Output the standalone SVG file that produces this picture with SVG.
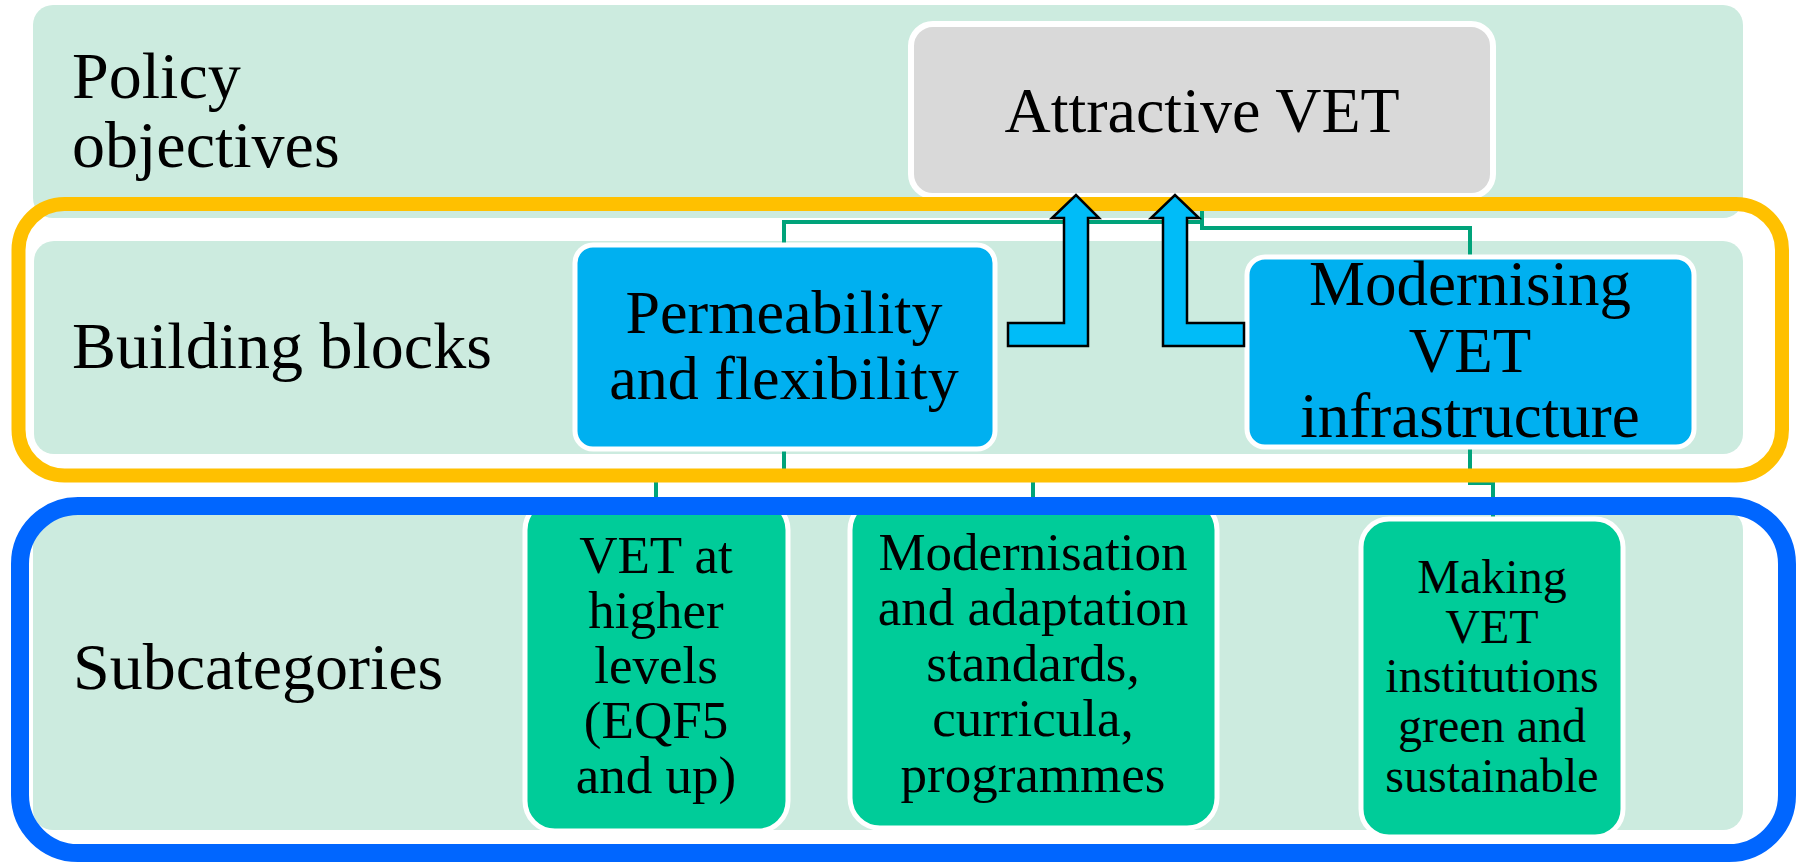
<svg xmlns="http://www.w3.org/2000/svg" width="1798" height="862" viewBox="0 0 1798 862">
<style>
.band{fill:#CCEBDF}
.t{font-family:"Liberation Serif","Times New Roman",serif;fill:#000}
.lbl{font-size:66px}
.c{text-anchor:middle}
.bn{fill:#00B0F0;stroke:#fff;stroke-width:5}
.gn{fill:#00CC99;stroke:#fff;stroke-width:5}
.con{fill:none;stroke:#00A37A;stroke-width:4}
.arr{fill:#00BCF8;stroke:#000;stroke-width:2.5;stroke-linejoin:miter}
</style>
<rect width="1798" height="862" fill="#fff"/>
<g id="bands">
<rect class="band" x="33" y="5" width="1710" height="213" rx="20"/>
<rect class="band" x="34" y="241" width="1709" height="213" rx="20"/>
<rect class="band" x="33" y="510" width="1710" height="320" rx="20"/>
</g>
<g id="labels">
<text class="t lbl" x="72" y="98">Policy</text>
<text class="t lbl" x="72" y="167">objectives</text>
<text class="t lbl" x="72" y="368">Building blocks</text>
<text class="t lbl" x="73" y="689">Subcategories</text>
</g>
<g id="connectors">
<path class="con" d="M1202,196 V222 H784 V245"/>
<path class="con" d="M1202,196 V228 H1470 V258"/>
<path class="con" d="M784,449 V476 H656 V515"/>
<path class="con" d="M784,476 H1033 V515"/>
<path class="con" d="M1470,447 V483 H1493 V519"/>
</g>
<g id="node-attractive">
<rect x="911" y="24" width="582" height="172" rx="22" fill="#D9D9D9" stroke="#fff" stroke-width="6"/>
<text class="t c" x="1202" y="132" font-size="64">Attractive VET</text>
</g>
<g id="node-permeability">
<rect class="bn" x="575" y="245" width="420" height="204" rx="18"/>
<text class="t c" x="784" y="333" font-size="62">Permeability</text>
<text class="t c" x="784" y="399" font-size="62">and flexibility</text>
</g>
<g id="node-modernising">
<rect class="bn" x="1247" y="257" width="447" height="190" rx="18"/>
<text class="t c" x="1470" y="305" font-size="63">Modernising</text>
<text class="t c" x="1470" y="372" font-size="63">VET</text>
<text class="t c" x="1470" y="437" font-size="63">infrastructure</text>
</g>
<g id="node-vet-higher">
<rect class="gn" x="525" y="500" width="263" height="331" rx="30"/>
<text class="t c" font-size="53" x="656"><tspan x="656" y="573">VET at</tspan><tspan x="656" y="628">higher</tspan><tspan x="656" y="683">levels</tspan><tspan x="656" y="738">(EQF5</tspan><tspan x="656" y="793">and up)</tspan></text>
</g>
<g id="node-modernisation">
<rect class="gn" x="850" y="500" width="367" height="328" rx="30"/>
<text class="t c" font-size="53" x="1033"><tspan x="1033" y="570">Modernisation</tspan><tspan x="1033" y="625">and adaptation</tspan><tspan x="1033" y="681">standards,</tspan><tspan x="1033" y="736">curricula,</tspan><tspan x="1033" y="792">programmes</tspan></text>
</g>
<g id="node-making">
<rect class="gn" x="1361" y="519" width="262" height="318" rx="28"/>
<text class="t c" font-size="48" x="1492"><tspan x="1492" y="593">Making</tspan><tspan x="1492" y="643">VET</tspan><tspan x="1492" y="692">institutions</tspan><tspan x="1492" y="742">green and</tspan><tspan x="1492" y="792">sustainable</tspan></text>
</g>
<g id="frames">
<rect x="18.5" y="204" width="1763.5" height="271.5" rx="46" fill="none" stroke="#FFC000" stroke-width="14"/>
<rect x="20" y="506" width="1767" height="347" rx="58" fill="none" stroke="#0066FF" stroke-width="18"/>
</g>
<g id="arrows">
<path class="arr" d="M1008,323 H1064 V218 H1052 L1076,195 L1099,218 H1088 V346 H1008 Z"/>
<path class="arr" d="M1163,346 V218 H1151 L1175,195 L1199,218 H1187 V323 H1244 V346 Z"/>
</g>
</svg>
